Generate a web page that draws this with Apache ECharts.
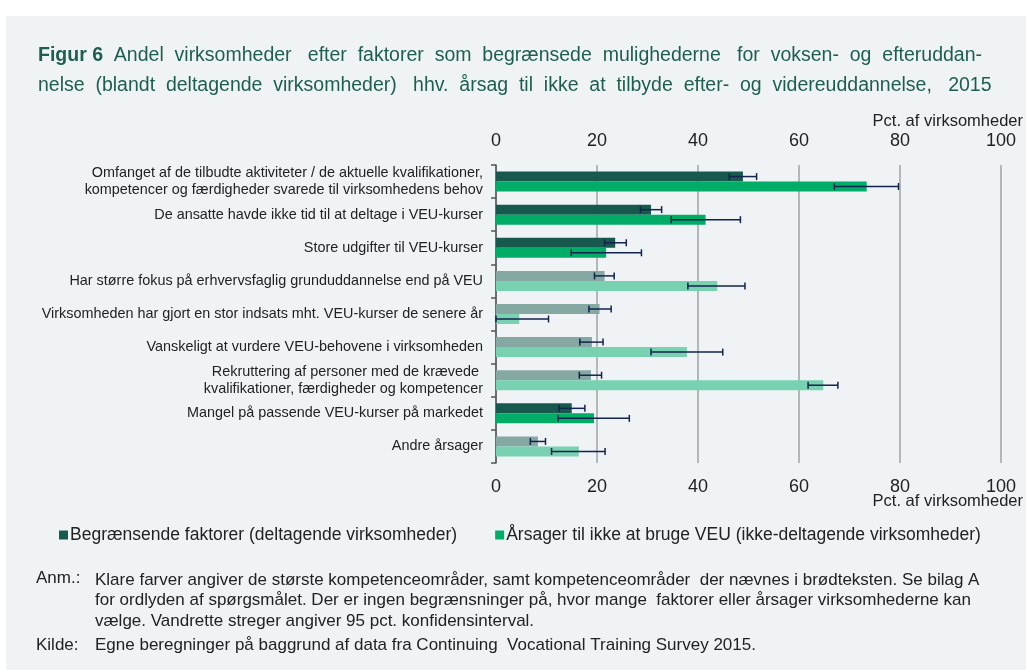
<!DOCTYPE html>
<html>
<head>
<meta charset="utf-8">
<script src="https://cdn.jsdelivr.net/npm/echarts@6/dist/echarts.min.js"></script>
<style>
  html, body { margin: 0; padding: 0; background: #fff; }
  #chart { width: 1026px; height: 670px; }
</style>
</head>
<body>
<div id="chart"></div>
<script>
// kategorier (oppefra og ned)
var kategorier = [
    "Omfanget af de tilbudte aktiviteter / de aktuelle kvalifikationer,\nkompetencer og færdigheder svarede til virksomhedens behov",
    "De ansatte havde ikke tid til at deltage i VEU-kurser",
    "Store udgifter til VEU-kurser",
    "Har større fokus på erhvervsfaglig grunduddannelse end på VEU",
    "Virksomheden har gjort en stor indsats mht. VEU-kurser de senere år",
    "Vanskeligt at vurdere VEU-behovene i virksomheden",
    "Rekruttering af personer med de krævede \nkvalifikationer, færdigheder og kompetencer",
    "Mangel på passende VEU-kurser på markedet",
    "Andre årsager"
];
var serieNavne = ["Begrænsende faktorer (deltagende virksomheder)", "Årsager til ikke at bruge VEU (ikke-deltagende virksomheder)"];

// Begrænsende faktorer
var begraens = [48.9, 30.7, 23.6, 21.5, 20.5, 19.0, 18.8, 15.0, 8.3];
var begraensLav = [46.2, 28.6, 21.5, 19.5, 18.4, 16.6, 16.5, 12.5, 6.8];
var begraensHoj = [51.6, 32.8, 25.8, 23.4, 22.8, 21.2, 20.9, 17.6, 9.8];
// Årsager til ikke at bruge VEU
var aarsager = [73.4, 41.5, 21.8, 43.8, 4.6, 37.8, 64.8, 19.4, 16.4];
var aarsagerLav = [67.0, 34.7, 14.9, 38.0, 0, 30.7, 61.8, 12.3, 11.0];
var aarsagerHoj = [79.7, 48.4, 28.8, 49.3, 10.4, 44.9, 67.7, 26.4, 21.6];
// klare farver = 1
var klar = [1, 1, 1, 0, 0, 0, 0, 1, 0];

var xMin = 0, xMax = 100, xStep = 20;

var farver = {
    moerk: '#175a4d', graa: '#86a8a2',
    groen: '#00ad67', lys: '#78d1b0'
};

var myChart = echarts.init(document.getElementById('chart'));

function barData(vals, klarFarve, blegFarve) {
    var d = [];
    for (var i = 0; i < vals.length; i++) {
        d.push({ value: vals[i], itemStyle: { color: klar[i] ? klarFarve : blegFarve } });
    }
    return d;
}

function errData(lav, hoj, idx) {
    var d = [];
    for (var i = 0; i < lav.length; i++) d.push([i, lav[i], hoj[i], idx]);
    return d;
}

function renderErr(params, api) {
    var c = api.value(0);
    var a = api.coord([api.value(1), c]);
    var b = api.coord([api.value(2), c]);
    var off = api.value(3) == 0 ? -5 : 5;
    var y = a[1] + off;
    var st = { stroke: '#13234d', lineWidth: 1.5 };
    return {
        type: 'group',
        children: [
            { type: 'line', shape: { x1: a[0], y1: y, x2: b[0], y2: y }, style: st },
            { type: 'line', shape: { x1: a[0], y1: y - 3.5, x2: a[0], y2: y + 3.5 }, style: st },
            { type: 'line', shape: { x1: b[0], y1: y - 3.5, x2: b[0], y2: y + 3.5 }, style: st }
        ]
    };
}

var tekst = '#222';
var font = 'Liberation Sans, Arial, sans-serif';
var noteFont = '17px ' + font;

var option = {
    backgroundColor: '#fff',
    animation: false,
    textStyle: { fontFamily: font },
    graphic: [
        { type: 'rect', left: 6, top: 16, shape: { width: 1020, height: 654 }, style: { fill: '#eff3f6' }, z: -10 },
        {
            type: 'text', left: 38, top: 41,
            style: {
                text: '{b|Figur 6}  Andel  virksomheder   efter  faktorer  som  begrænsede  mulighederne   for  voksen-  og  efteruddan-\nnelse  (blandt  deltagende  virksomheder)   hhv.  årsag  til  ikke  at  tilbyde  efter-  og  videreuddannelse,   2015',
                fill: '#1d5e50', font: '19.5px ' + font, lineHeight: 30,
                rich: { b: { fontWeight: 'bold', fontSize: 19.5, fill: '#1d5e50', fontFamily: font } }
            }
        },
        { type: 'text', right: 3, top: 113, style: { text: 'Pct. af virksomheder', fill: tekst, font: '16.5px ' + font } },
        { type: 'text', right: 3, top: 493, style: { text: 'Pct. af virksomheder', fill: tekst, font: '16.5px ' + font } },
        {
            type: 'text', left: 36, top: 570,
            style: { text: 'Anm.:', fill: tekst, font: noteFont }
        },
        {
            type: 'text', left: 95, top: 570,
            style: {
                text: 'Klare farver angiver de største kompetenceområder, samt kompetenceområder  der nævnes i brødteksten. Se bilag A\nfor ordlyden af spørgsmålet. Der er ingen begrænsninger på, hvor mange  faktorer eller årsager virksomhederne kan\nvælge. Vandrette streger angiver 95 pct. konfidensinterval.',
                fill: tekst, font: noteFont, lineHeight: 20.5
            }
        },
        { type: 'text', left: 36, top: 637, style: { text: 'Kilde:', fill: tekst, font: noteFont } },
        {
            type: 'text', left: 95, top: 637,
            style: { text: 'Egne beregninger på baggrund af data fra Continuing  Vocational Training Survey 2015.', fill: tekst, font: noteFont }
        }
    ],
    legend: {
        left: 54, top: 521,
        itemWidth: 9, itemHeight: 9, itemGap: 38,
        icon: 'rect',
        textStyle: { fontSize: 17.5, color: tekst, fontFamily: font, padding: [0, 0, 0, -3] },
        data: serieNavne
    },
    grid: { left: 496, right: 25, top: 165, bottom: 207 },
    xAxis: [
        {
            type: 'value', position: 'bottom', min: xMin, max: xMax, interval: xStep,
            axisLine: { show: false }, axisTick: { show: false },
            axisLabel: { fontSize: 18, color: tekst, margin: 15 },
            splitLine: { show: true, lineStyle: { color: '#b4b7b9', width: 2 } }
        },
        {
            type: 'value', position: 'top', min: xMin, max: xMax, interval: xStep,
            axisLine: { show: false }, axisTick: { show: false },
            axisLabel: { fontSize: 18, color: tekst, margin: 15 },
            splitLine: { show: false }
        }
    ],
    yAxis: {
        type: 'category', inverse: true, data: kategorier,
        axisLine: { show: true, lineStyle: { color: '#555', width: 1.5 } },
        axisTick: { show: true, length: 5, lineStyle: { color: '#555', width: 1.5 } },
        axisLabel: { fontSize: 14.4, color: tekst, margin: 13, lineHeight: 17 }
    },
    series: [
        {
            name: serieNavne[0], type: 'bar', barWidth: 10, barGap: '0%',
            itemStyle: { color: farver.moerk },
            data: barData(begraens, farver.moerk, farver.graa)
        },
        {
            name: serieNavne[1], type: 'bar', barWidth: 10, barGap: '0%',
            itemStyle: { color: farver.groen },
            data: barData(aarsager, farver.groen, farver.lys)
        },
        {
            type: 'custom', renderItem: renderErr, encode: { x: [1, 2], y: 0 },
            data: errData(begraensLav, begraensHoj, 0), z: 5, silent: true
        },
        {
            type: 'custom', renderItem: renderErr, encode: { x: [1, 2], y: 0 },
            data: errData(aarsagerLav, aarsagerHoj, 1), z: 5, silent: true
        }
    ]
};

myChart.setOption(option);
</script>
</body>
</html>
